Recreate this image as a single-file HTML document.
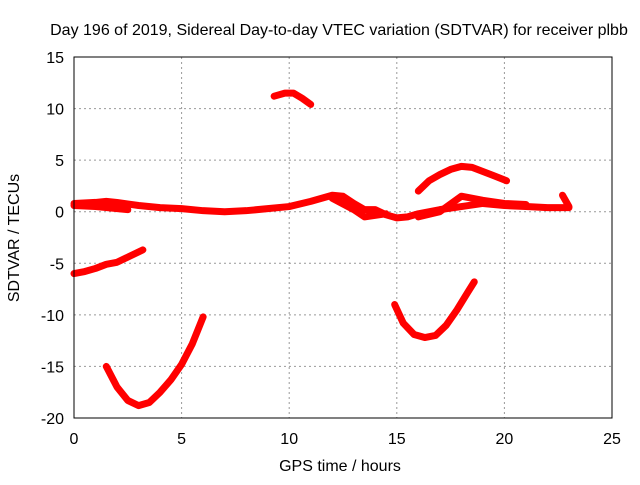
<!DOCTYPE html>
<html><head><meta charset="utf-8"><style>
body{margin:0;background:#fff;width:640px;height:480px;overflow:hidden}
svg text{font-family:"Liberation Sans",sans-serif;font-size:16px;fill:#000}
</style></head><body>
<svg id="chart" width="640" height="480">
<text x="339" y="35" text-anchor="middle">Day 196 of 2019, Sidereal Day-to-day VTEC variation (SDTVAR) for receiver plbb</text>
<text x="340" y="471" text-anchor="middle">GPS time / hours</text>
<text transform="translate(19,238) rotate(-90)" text-anchor="middle">SDTVAR / TECUs</text>
<g id="grid"></g><g id="series"></g>
<rect x="74" y="57" width="538" height="361" fill="none" stroke="#000" stroke-width="1"/>
</svg>
<script>
const xTicks=[0,5,10,15,20,25];
const yTicks=[15,10,5,0,-5,-10,-15,-20];
const arcA=[[1.5,-15],[2,-17],[2.5,-18.3],[3,-18.8],[3.5,-18.5],[4,-17.5],[4.5,-16.3],[5,-14.8],[5.5,-12.8],[6,-10.2]];
const arcB=[[0,-6],[0.5,-5.8],[1,-5.5],[1.5,-5.1],[2,-4.9],[2.5,-4.4],[3.2,-3.7]];
const arcC=[[9.3,11.2],[9.8,11.5],[10.2,11.5],[10.6,11],[11,10.4]];
const arcD=[[14.9,-9],[15.3,-10.8],[15.8,-11.9],[16.3,-12.2],[16.8,-12],[17.3,-11],[17.8,-9.5],[18.3,-7.8],[18.6,-6.8]];
const arcE=[[16,2],[16.5,3],[17,3.6],[17.5,4.1],[18,4.4],[18.5,4.3],[19,3.9],[19.5,3.5],[20.1,3]];
const band=[[0,0.8],[1,0.9],[1.5,1],[2,0.9],[3,0.6],[4,0.4],[5,0.3],[6,0.1],[7,0],[8,0.1],[9,0.3],[10,0.5],[11,1.0],[12,1.6],[12.5,1.5],[13,0.8],[13.5,0.2],[14,0.2],[14.5,-0.3],[15,-0.6],[15.5,-0.5],[16,-0.2],[17,0.2],[18,0.5],[19,0.8],[20,0.6],[21,0.5],[22,0.4],[23,0.4]];
const band2=[[0,0.6],[1,0.5],[2.5,0.2]];
const band3=[[12,1.3],[13,0.2],[13.5,-0.5],[14.5,-0.2]];
const band4=[[16,-0.5],[17,0],[18,1.5],[19,1.1],[20,0.8],[21,0.7]];
const band5=[[22.7,1.6],[23,0.5]];
const X=v=>74+v*538/25, Y=v=>57+(15-v)*361/35;
const NS="http://www.w3.org/2000/svg";
const g=document.getElementById('grid');
function mk(t,a,p){const e=document.createElementNS(NS,t);for(const k in a)e.setAttribute(k,a[k]);p.appendChild(e);return e;}
xTicks.forEach(t=>{
 const l=mk('line',{x1:X(t),x2:X(t),y1:57,y2:418,stroke:'#999','stroke-dasharray':'2,3'},g);
 
 
 const tx=mk('text',{x:X(t),y:444,'text-anchor':'middle'},g);tx.textContent=t;
 
 
});
yTicks.forEach(t=>{
 const l=mk('line',{x1:74,x2:612,y1:Y(t),y2:Y(t),stroke:'#999','stroke-dasharray':'2,3'},g);
 
 
 const tx=mk('text',{x:64,y:Y(t)+6,'text-anchor':'end'},g);tx.textContent=t;
 
 
});
const s=document.getElementById('series');
[arcA,arcB,arcC,arcD,arcE,band,band2,band3,band4,band5].forEach((d,i)=>{
 const p=mk('polyline',{points:d.map(q=>X(q[0])+','+Y(q[1])).join(' '),fill:'none',stroke:'#f00','stroke-width':7,'stroke-linejoin':'round','stroke-linecap':'round'},s);
 
 
});
</script>
</body></html>
